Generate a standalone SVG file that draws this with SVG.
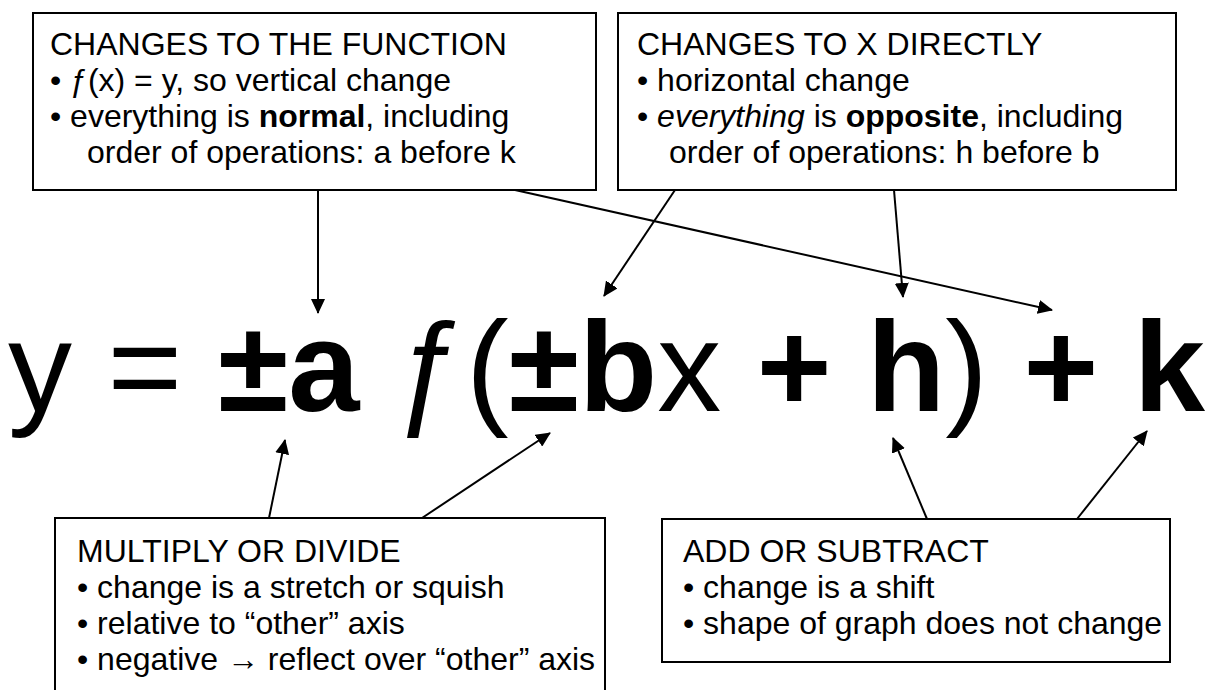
<svg xmlns="http://www.w3.org/2000/svg" width="1225" height="690" viewBox="0 0 1225 690">
  <defs>
    <marker id="ah" viewBox="0 0 15 14" refX="14" refY="7" markerWidth="15" markerHeight="14" markerUnits="userSpaceOnUse" orient="auto">
      <path d="M0,0 L15,7 L0,14 z" fill="#000"/>
    </marker>
    <style>
      .box { fill: #fff; stroke: #000; stroke-width: 2; }
      .t { font-family: "Liberation Sans", Arial, sans-serif; font-size: 32px; fill: #000; }
      .eq { font-family: "Liberation Sans", Arial, sans-serif; font-size: 128px; fill: #000; }
      .b { font-weight: bold; }
      .i { font-style: italic; }
      .conn line { stroke: #000; stroke-width: 2; marker-end: url(#ah); }
    </style>
  </defs>
  <rect width="1225" height="690" fill="#fff"/>

  <g id="box-function">
    <rect class="box" x="33" y="13" width="563" height="177"/>
    <text class="t" x="50" y="55">CHANGES TO THE FUNCTION</text>
    <text class="t" x="50" y="91">• ƒ(x) = y, so vertical change</text>
    <text class="t" x="50" y="127">• everything is <tspan class="b">normal</tspan>, including</text>
    <text class="t" x="87" y="163">order of operations: a before k</text>
  </g>

  <g id="box-x">
    <rect class="box" x="618" y="13" width="558" height="177"/>
    <text class="t" x="637" y="55">CHANGES TO X DIRECTLY</text>
    <text class="t" x="637" y="91">• horizontal change</text>
    <text class="t" x="637" y="127">• <tspan class="i">everything</tspan> is <tspan class="b">opposite</tspan>, including</text>
    <text class="t" x="669" y="163">order of operations: h before b</text>
  </g>

  <g id="box-multiply">
    <rect class="box" x="55" y="518" width="550" height="190"/>
    <text class="t" x="77" y="562">MULTIPLY OR DIVIDE</text>
    <text class="t" x="77" y="598">• change is a stretch or squish</text>
    <text class="t" x="77" y="634">• relative to “other” axis</text>
    <text class="t" x="77" y="670">• negative → reflect over “other” axis</text>
  </g>

  <g id="box-add">
    <rect class="box" x="662" y="519" width="508" height="143"/>
    <text class="t" x="683" y="562">ADD OR SUBTRACT</text>
    <text class="t" x="683" y="598">• change is a shift</text>
    <text class="t" x="683" y="634">• shape of graph does not change</text>
  </g>

  <g id="equation">
    <text class="eq" x="8" y="411">y = <tspan class="b">±a</tspan> ƒ(<tspan class="b">±b</tspan>x <tspan class="b">+ h</tspan>) <tspan class="b">+ k</tspan></text>
  </g>

  <g id="connectors" class="conn">
    <line x1="318" y1="190" x2="318" y2="313"/>
    <line x1="515" y1="190" x2="1052" y2="310"/>
    <line x1="675" y1="190" x2="604" y2="296"/>
    <line x1="894" y1="190" x2="903" y2="297"/>
    <line x1="269" y1="518" x2="285" y2="440"/>
    <line x1="422" y1="518" x2="550" y2="433"/>
    <line x1="927" y1="519" x2="893" y2="438"/>
    <line x1="1077" y1="519" x2="1147" y2="431"/>
  </g>
</svg>
